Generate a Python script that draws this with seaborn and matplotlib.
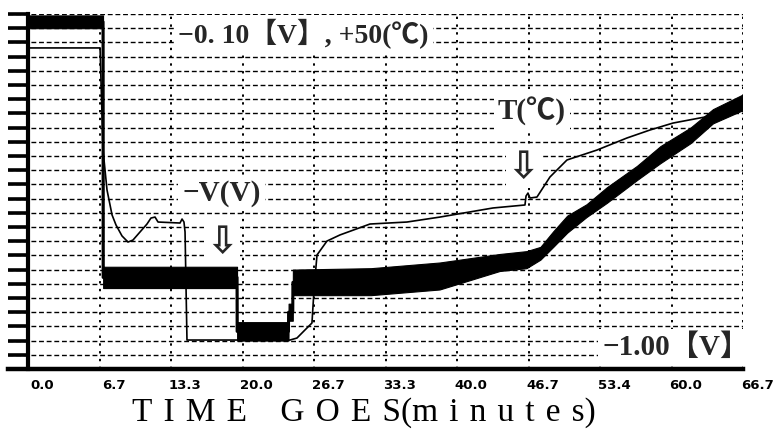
import numpy as np
import pandas as pd
import matplotlib
matplotlib.use("Agg")
import matplotlib.pyplot as plt
import matplotlib.transforms as mtransforms
import seaborn as sns

# ---------------- data ----------------
# x axis: time in minutes, 10 equal divisions
x_tick_pos = [0.0, 6.67, 13.34, 20.01, 26.68, 33.35, 40.02, 46.69, 53.36, 60.03, 66.7]
x_tick_labels = ["0.0", "6.7", "13.3", "20.0", "26.7", "33.3", "40.0", "46.7", "53.4", "60.0", "66.7"]
# y axis: 25 unlabeled divisions (top = -0.10 V / +50 C, bottom = -1.00 V)
y_tick_pos = list(range(0, 26))

# -V (V) trace: noisy band (upper / lower envelope), in divisions
v_time = [0.0, 7.0, 7.01, 19.5, 19.51, 24.3, 24.31, 24.7, 24.71, 32.0, 38.4,
          44.0, 46.5, 47.8, 49.0, 50.3, 52.1, 54.0, 56.8, 59.0, 61.8, 63.9, 66.6]
v_high = [24.9, 24.9, 7.2, 7.2, 3.3, 3.3, 4.6, 4.6, 7.0, 7.1, 7.5,
          8.1, 8.3, 8.6, 9.7, 10.8, 11.6, 12.8, 14.3, 15.7, 17.0, 18.3, 19.3]
v_low = [24.0, 24.0, 5.7, 5.7, 2.0, 2.0, 3.4, 3.4, 5.2, 5.2, 5.6,
         6.9, 7.1, 7.7, 8.6, 9.6, 10.7, 11.7, 13.3, 14.5, 15.9, 17.3, 18.2]

# T (C) trace, in divisions
t_time = [0.0, 6.72, 7.00, 7.37, 7.84, 8.21, 8.77, 9.33, 9.79, 10.45, 11.10, 11.47,
          11.85, 12.13, 14.18, 14.37, 14.55, 14.65, 14.83, 24.44, 25.09, 25.84, 26.49,
          26.68, 26.96, 27.89, 29.10, 31.90, 35.35, 38.43, 43.38, 46.36, 46.46, 46.64,
          46.83, 47.48, 48.69, 50.28, 53.08, 55.88, 58.02, 60.17, 62.69, 65.76, 66.60]
t_value = [22.61, 22.61, 15.42, 12.61, 10.85, 10.14, 9.37, 8.94, 9.08, 9.65, 10.21, 10.63,
           10.70, 10.35, 10.28, 10.56, 10.35, 9.65, 2.04, 2.04, 2.18, 2.75, 3.24,
           5.56, 8.03, 9.01, 9.44, 10.21, 10.35, 10.70, 11.34, 11.55, 12.18, 12.39,
           12.04, 12.11, 13.52, 14.72, 15.42, 16.27, 16.83, 17.32, 17.68, 18.10, 18.38]

v_df = pd.DataFrame({"time": v_time, "high": v_high, "low": v_low})
v_df["mid"] = (v_df["high"] + v_df["low"]) / 2
t_df = pd.DataFrame({"time": t_time, "temp": t_value})

# ---------------- figure ----------------
sns.set_theme(style="white")
plt.rcParams["font.family"] = ["DejaVu Sans"]

W, H = 776, 429
fig = plt.figure(figsize=(W / 100, H / 100), dpi=100)
ax = fig.add_axes([8 / W, 60 / H, 735 / W, 355 / H])
ax.set_facecolor("white")

ax.fill_between(v_df["time"], v_df["low"], v_df["high"], color="black",
                lw=0.8, zorder=3)
sns.lineplot(data=v_df, x="time", y="mid", sort=False, estimator=None,
             color="black", lw=2.2, ax=ax, zorder=3)
sns.lineplot(data=t_df, x="time", y="temp", sort=False, estimator=None,
             color="black", lw=1.2, ax=ax, zorder=4)

ax.set_xlim(-1.866, 66.7)
ax.set_ylim(0, 25)

# spines
for s in ["top", "right"]:
    ax.spines[s].set_visible(False)
ax.spines["left"].set_position(("data", 0))
ax.spines["left"].set_linewidth(3)
ax.spines["left"].set_color("black")
ax.spines["bottom"].set_linewidth(3.2)
ax.spines["bottom"].set_color("black")

# ticks
ax.set_yticks(y_tick_pos)
ax.set_yticklabels([])
ax.tick_params(axis="y", direction="out", length=14.4, width=2.6, color="black",
               left=True)
ax.set_xticks(x_tick_pos)
ax.set_xticklabels(x_tick_labels, fontweight="bold")
ax.tick_params(axis="x", length=0, pad=7, labelsize=9.5, labelcolor="black")
offset = mtransforms.ScaledTranslation(14 / 100, 0, fig.dpi_scale_trans)
for lab in ax.get_xticklabels():
    lab.set_transform(lab.get_transform() + offset)

# grid
ax.set_axisbelow(True)
ax.yaxis.grid(True, color="black", lw=1.0, ls=(0, (3.5, 2)))
ax.xaxis.grid(True, color="black", lw=1.4, ls=(0, (1.2, 2.8)))

# letter-spaced axis title (three-per-em spaces between letters)
sp = "\u2004"
spaced = (sp.join("TIME") + sp * 3 + sp.join("GOES") + "(" +
          sp.join("minutes") + ")")
ax.set_ylabel("")
ax.set_xlabel(spaced, fontsize=24,
              family=["Liberation Serif", "DejaVu Serif"], color="black")
ax.xaxis.set_label_coords(0.4837, -0.1465)
ax.xaxis.label.set_va("baseline")

# annotations
serif = ["Liberation Serif", "Noto Sans CJK JP", "DejaVu Sans"]
box = dict(boxstyle="square,pad=0.15", fc="white", ec="none")
ax.text(14.0, 23.6, "−0. 10【V】, +50(℃)", family=serif, fontsize=20,
        fontweight="bold", ha="left", va="center", bbox=box, zorder=6)
ax.text(14.4, 12.36, "−V(V)", family=serif, fontsize=21, fontweight="bold",
        ha="left", va="center", bbox=box, zorder=6)
ax.text(43.85, 18.1, "T(℃)", family=serif, fontsize=21, fontweight="bold",
        ha="left", va="center", bbox=box, zorder=6)
ax.text(67.3, 1.55, "−1.00【V】", family=serif, fontsize=21, fontweight="bold",
        ha="right", va="center", bbox=box, zorder=6)
arrow_box = dict(boxstyle="square,pad=0.05", fc="white", ec="none")
ax.text(18.1, 8.87, "⇩", family=["DejaVu Sans"], fontsize=27, fontweight="bold",
        ha="center", va="center", bbox=arrow_box, zorder=6)
ax.text(46.2, 14.15, "⇩", family=["DejaVu Sans"], fontsize=27, fontweight="bold",
        ha="center", va="center", bbox=arrow_box, zorder=6)

fig.savefig("out.png", dpi=100, facecolor="white")
